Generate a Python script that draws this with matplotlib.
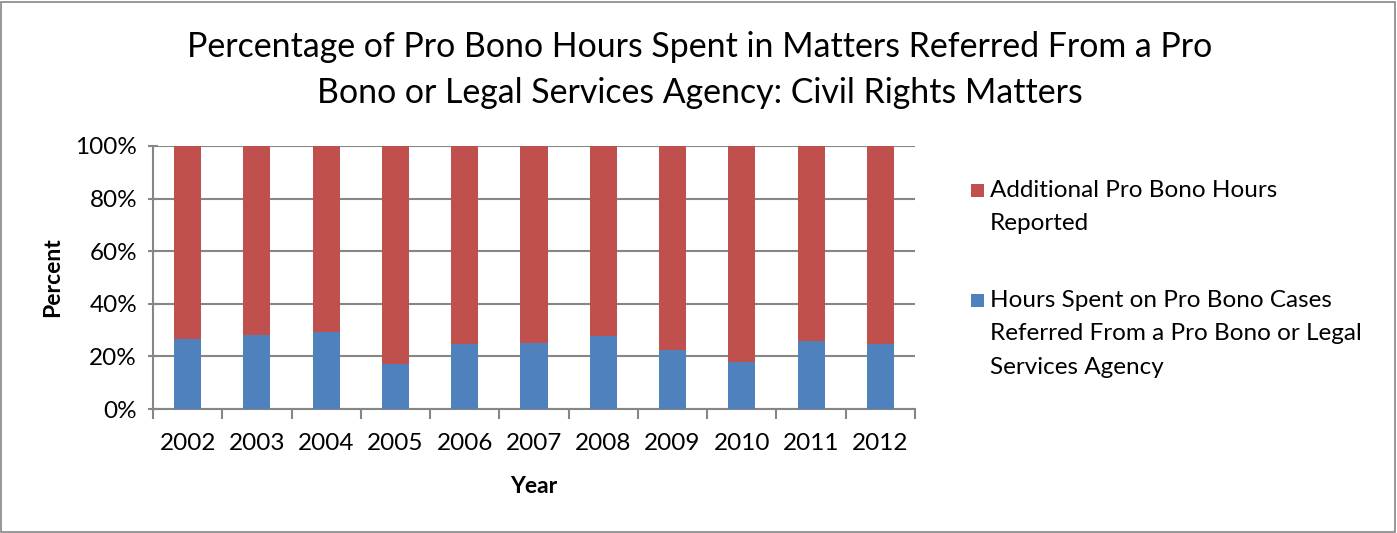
import matplotlib
matplotlib.use("Agg")
import matplotlib.pyplot as plt
from matplotlib.ticker import FuncFormatter
from matplotlib.patches import Rectangle

years = ["2002", "2003", "2004", "2005", "2006", "2007", "2008", "2009", "2010", "2011", "2012"]
referred = [26.6, 28.2, 29.2, 17.1, 24.7, 25.1, 27.6, 22.5, 17.9, 25.8, 24.7]
additional = [100 - v for v in referred]

label_add = "Additional Pro Bono Hours\nReported"
label_ref = "Hours Spent on Pro Bono Cases\nReferred From a Pro Bono or Legal\nServices Agency"
title = "Percentage of Pro Bono Hours Spent in Matters Referred From a Pro\nBono or Legal Services Agency: Civil Rights Matters"

blue = "#4F81BD"
red = "#C0504D"
grey = "#868686"

plt.rcParams['font.family'] = ['Lato', 'DejaVu Sans']

W, H = 1397, 533
fig = plt.figure(figsize=(W / 100, H / 100), dpi=100)
ax = fig.add_axes([153/W, 1 - 409/H, (915-153)/W, (409-146)/H])

x = list(range(len(years)))
b1 = ax.bar(x, referred, width=0.39, color=blue, label=label_ref, zorder=3)
b2 = ax.bar(x, additional, bottom=referred, width=0.39, color=red, label=label_add, zorder=3)

ax.set_xlim(-0.5, len(years) - 0.5)
ax.set_ylim(0, 100)
ax.set_yticks([0, 20, 40, 60, 80, 100])
ax.yaxis.set_major_formatter(FuncFormatter(lambda v, p: f"{int(v)}%"))
ax.set_xticks(x)
ax.set_xticklabels(years)
ax.set_xticks([i - 0.5 for i in range(len(years) + 1)], minor=True)
ax.grid(axis='y', color=grey, linewidth=1.5, zorder=0)

for s in ['top', 'right']:
    ax.spines[s].set_visible(False)
for s in ['left', 'bottom']:
    ax.spines[s].set_color(grey)
    ax.spines[s].set_linewidth(1.5)

ax.tick_params(axis='x', which='major', length=0, pad=17, labelsize=17.5)
ax.tick_params(axis='x', which='minor', length=7, color=grey, width=1.5)
ax.tick_params(axis='y', which='major', length=7, color=grey, width=1.5, labelsize=17.5, pad=8, direction='inout')

ax.set_xlabel("Year", fontsize=16.5, fontweight='bold', labelpad=16)
ax.set_ylabel("Percent", fontsize=16.5, fontweight='bold', labelpad=9)

fig.text(700/W, 1 - 70/H, title, ha='center', va='center', fontsize=24.4, linespacing=1.55)

# legend (drawn manually to match line spacing and marker alignment)
entries = [(red, label_add, 190), (blue, label_ref, 300)]
for color, text, ytop in entries:
    fig.patches.append(Rectangle((971/W, 1 - (ytop + 7)/H), 13/W, 13/H, transform=fig.transFigure,
                                 facecolor=color, edgecolor='none'))
    fig.text(990/W, 1 - (ytop - 10)/H, text, ha='left', va='top', fontsize=17.5, linespacing=1.73)

fig.patches.append(Rectangle((1/W, 1/H), 1 - 3/W, 1 - 3/H, transform=fig.transFigure,
                             fill=False, edgecolor=grey, linewidth=1.2))

fig.savefig("out.png", dpi=100)
